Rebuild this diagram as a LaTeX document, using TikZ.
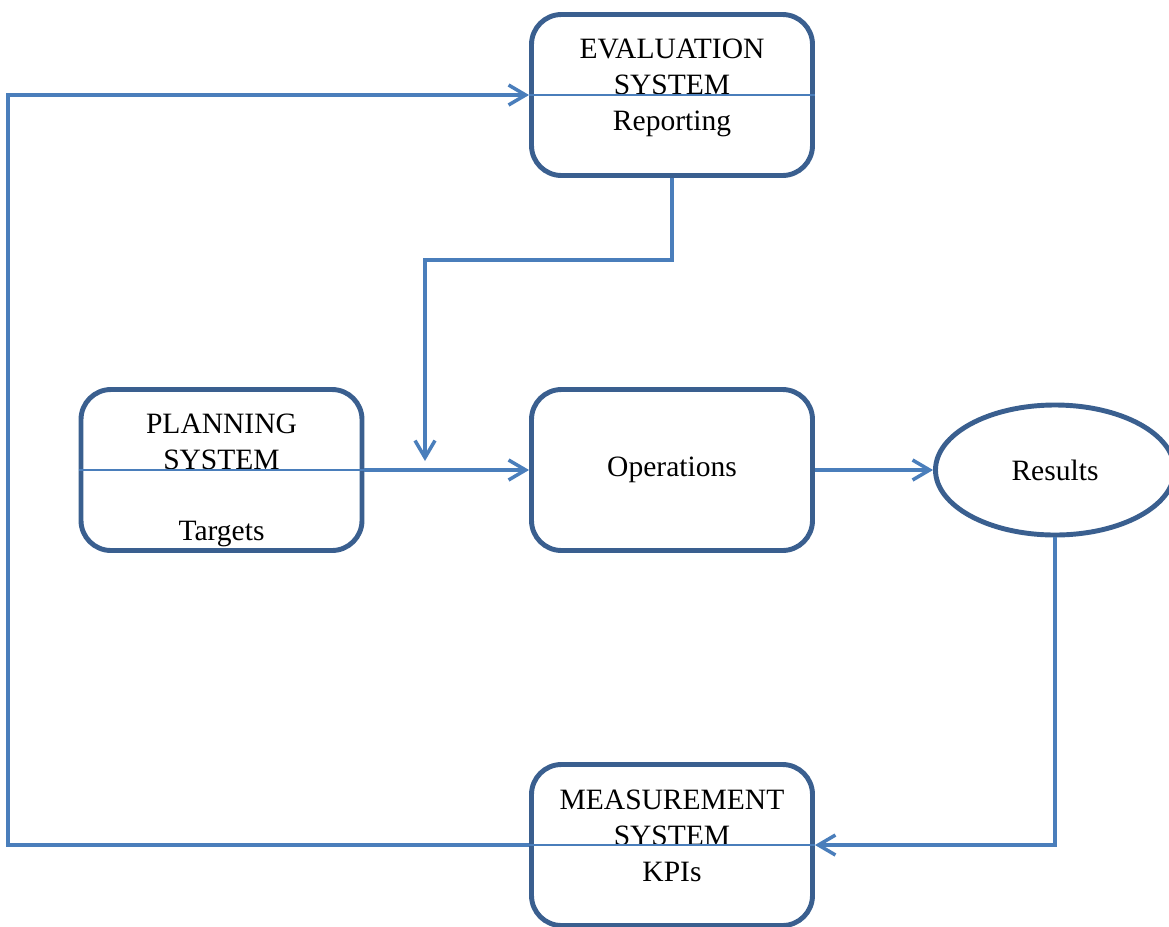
\documentclass[tikz,border=0pt]{standalone}
\usepackage{fontspec}
\setmainfont{Liberation Serif}
\usetikzlibrary{calc,arrows.meta,shapes.geometric}
\definecolor{boxblue}{HTML}{3A5F8F}
\definecolor{lineblue}{HTML}{4A7EBB}

\begin{document}
\begin{tikzpicture}[
	box/.style={draw=boxblue,line width=2.8pt,rounded corners=0.6cm,minimum width=5.62cm,minimum height=3.22cm,inner sep=0pt},
	conn/.style={lineblue,line width=2pt,-{Straight Barb[length=0.34cm,width=0.4cm]}},
	split/.style={lineblue,line width=0.8pt},
	lbl/.style={font=\fontsize{16.8}{20.3}\selectfont,align=center,inner sep=0pt}
]
			\useasboundingbox (0,0) rectangle (23.38,-18.52);
			% boxes
			\node[box] (eval) at (13.44,-1.9) {};
			\node[box] (plan) at (4.43,-9.4) {};
			\node[box] (ops) at (13.44,-9.4) {};
			\node[box] (meas) at (13.44,-16.9) {};
			\node[draw=boxblue,line width=2.8pt,ellipse,minimum width=4.78cm,minimum height=2.6cm] (res) at (21.1,-9.4) {};
			% texts
			\node[lbl,anchor=north] (evaltxt) at (13.44,-0.78) {EVALUATION\\SYSTEM\\Reporting};
			\node[lbl,anchor=north] (plantxt) at (4.43,-8.28) {PLANNING\\SYSTEM};
			\node[lbl,anchor=base] (targets) at (4.43,-10.8) {Targets};
			\node[lbl] (opstxt) at (ops) {Operations};
			\node[lbl] (restxt) at (res) {Results};
			\node[lbl,anchor=north] (meastxt) at (13.44,-15.8) {MEASUREMENT\\SYSTEM\\KPIs};
			% split lines
			\draw[split] (eval.west)--(eval.east);
			\draw[split] (plan.west)--(plan.east);
			\draw[split] (meas.west)--(meas.east);
			% connectors
			\coordinate (turn) at (8.5,-5.2);
			\coordinate (drop) at (8.5,-9.22);
			\coordinate (lowleft) at (0.16,-16.9);
			\coordinate (upleft) at (0.16,-1.9);
			\draw[conn] (eval.south)|-(turn)--(drop);
			\draw[conn] (plan.east)--(ops.west);
			\draw[conn] (ops.east)--(res.west);
			\draw[conn] (res.south)|-(meas.east);
			\draw[conn] (meas.west)--(lowleft)--(upleft)--(eval.west);
		\end{tikzpicture}
\end{document}
